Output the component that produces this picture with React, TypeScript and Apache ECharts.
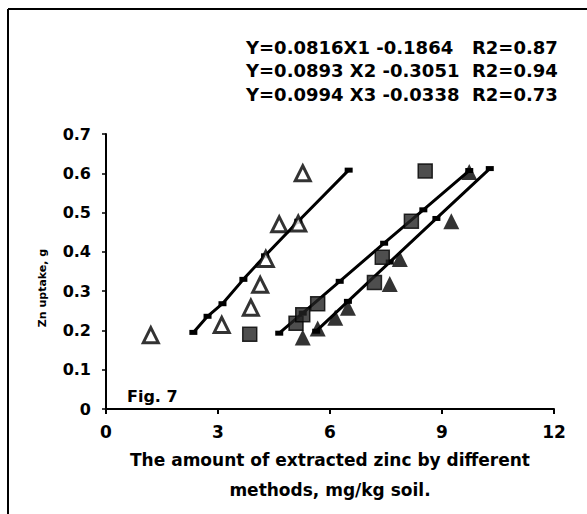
import React, { useEffect, useRef } from "react";
import * as echarts from "echarts";

const openTriangles: [number, number][] = [
  [1.2, 0.188], [3.1, 0.214], [3.88, 0.258], [4.13, 0.316], [4.28, 0.382],
  [4.64, 0.47], [5.15, 0.472], [5.27, 0.6],
];
const graySquares: [number, number][] = [
  [3.85, 0.19], [5.09, 0.218], [5.27, 0.24], [5.67, 0.268], [7.19, 0.322],
  [7.4, 0.386], [8.18, 0.478], [8.55, 0.606],
];
const filledTriangles: [number, number][] = [
  [5.27, 0.182], [5.67, 0.205], [6.14, 0.232], [6.48, 0.258], [7.6, 0.318],
  [7.87, 0.382], [9.25, 0.478], [9.73, 0.603],
];
// Fitted lines (marker points)
const fitLine3: [number, number][] = [
  [2.34, 0.195], [2.72, 0.236], [3.12, 0.268], [3.68, 0.33], [4.26, 0.39],
  [5.15, 0.478], [6.5, 0.608],
];
const fitLine1: [number, number][] = [
  [4.64, 0.193], [5.27, 0.244], [6.26, 0.325], [7.45, 0.422], [8.5, 0.507], [9.73, 0.607],
];
const fitLine2: [number, number][] = [
  [5.63, 0.198], [6.48, 0.274], [7.6, 0.374], [8.85, 0.485], [10.28, 0.612],
];
const equations = [
  "Y=0.0816X1 -0.1864   R2=0.87",
  "Y=0.0893 X2 -0.3051  R2=0.94",
  "Y=0.0994 X3 -0.0338  R2=0.73",
];
const xName = "The amount of extracted zinc by different\nmethods, mg/kg soil.";
const yName = "Zn uptake, g";
const figLabel = "Fig. 7";

const FONT = "DejaVu Sans";

export default function App() {
  const ref = useRef<HTMLDivElement>(null);
  useEffect(() => {
    document.body.style.margin = "0";
    const chart = echarts.init(ref.current!, null, { renderer: "svg" });
    const lineSeries = (data: [number, number][]) => ({
      type: "line",
      data,
      symbol: "rect",
      symbolSize: [8, 5],
      showSymbol: true,
      lineStyle: { color: "#000", width: 3 },
      itemStyle: { color: "#000" },
      z: 2,
    });
    chart.setOption({
      animation: false,
      backgroundColor: "#fff",
      grid: { left: 106, right: 33, top: 134, bottom: 105 },
      xAxis: {
        type: "value",
        min: 0,
        max: 12,
        interval: 3,
        name: xName,
        nameLocation: "middle",
        nameGap: 30,
        nameTextStyle: {
          fontFamily: FONT,
          fontWeight: "bold",
          fontSize: 17,
          color: "#000",
          lineHeight: 30,
        },
        axisLine: { lineStyle: { color: "#000", width: 2 } },
        axisTick: { show: true, length: 5, lineStyle: { color: "#000", width: 2 } },
        axisLabel: {
          fontFamily: FONT,
          fontWeight: "bold",
          fontSize: 17,
          color: "#000",
          margin: 14,
        },
        splitLine: { show: false },
      },
      yAxis: {
        type: "value",
        min: 0,
        max: 0.7,
        interval: 0.1,
        axisLine: { show: true, lineStyle: { color: "#000", width: 2 } },
        axisTick: { show: true, length: 4, lineStyle: { color: "#000", width: 1.5 } },
        axisLabel: {
          fontFamily: FONT,
          fontWeight: "bold",
          fontSize: 16,
          color: "#000",
          margin: 15,
          formatter: (v: number) => (v === 0 ? "0" : v.toFixed(1)),
        },
        splitLine: { show: false },
      },
      graphic: [
        { type: "line", shape: { x1: 8, y1: 9, x2: 8, y2: 514 }, style: { stroke: "#000", lineWidth: 2 } },
        { type: "line", shape: { x1: 8, y1: 9, x2: 587, y2: 9 }, style: { stroke: "#000", lineWidth: 2 } },
        ...equations.map((t, i) => ({
          type: "text",
          left: 246,
          top: 38 + i * 23.5,
          style: { text: t, fontFamily: FONT, fontWeight: "bold", fontSize: 18, fill: "#000" },
        })),
        {
          type: "text",
          x: 42,
          y: 288,
          rotation: Math.PI / 2,
          style: {
            text: yName,
            fontFamily: FONT,
            fontWeight: "bold",
            fontSize: 11,
            fill: "#000",
            align: "center",
            verticalAlign: "middle",
          },
        },
        {
          type: "text",
          left: 127,
          top: 388,
          style: { text: figLabel, fontFamily: FONT, fontWeight: "bold", fontSize: 16, fill: "#000" },
        },
      ],
      series: [
        lineSeries(fitLine3),
        lineSeries(fitLine1),
        lineSeries(fitLine2),
        {
          type: "scatter",
          data: openTriangles,
          symbol: "triangle",
          symbolSize: 15,
          itemStyle: { color: "#fff", borderColor: "#000", borderWidth: 3 },
          z: 3,
        },
        {
          type: "scatter",
          data: graySquares,
          symbol: "rect",
          symbolSize: 14,
          itemStyle: { color: "#222", borderColor: "#000", borderWidth: 1.5 },
          z: 3,
        },
        {
          type: "scatter",
          data: filledTriangles,
          symbol: "triangle",
          symbolSize: 16,
          itemStyle: { color: "#000" },
          z: 3,
        },
      ],
    });
    return () => chart.dispose();
  }, []);
  return <div ref={ref} style={{ width: 587, height: 514 }} />;
}
